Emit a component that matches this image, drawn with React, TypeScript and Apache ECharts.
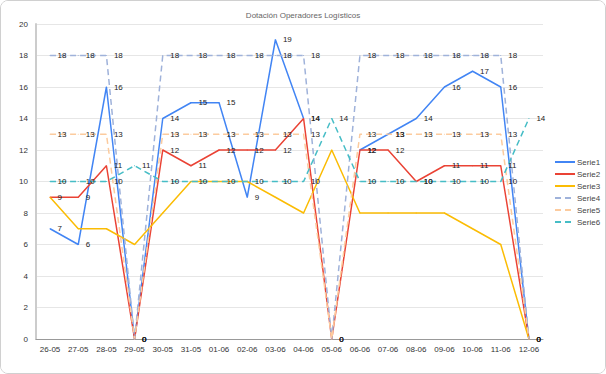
import React, { useEffect, useRef } from "react";
import * as echarts from "echarts";

const categories = ["26-05","27-05","28-05","29-05","30-05","31-05","01-06","02-06","03-06","04-06","05-06","06-06","07-06","08-06","09-06","10-06","11-06","12-06"];
const serie1 = [7, 6, 16, 0, 14, 15, 15, 9, 19, 14, null, 12, 13, 14, 16, 17, 16, 0];
const serie2 = [9, 9, 11, 0, 12, 11, 12, 12, 12, 14, 0, 12, 12, 10, 11, 11, 11, 0];
const serie3 = [9, 7, 7, 6, 8, 10, 10, 10, 9, 8, 12, 8, 8, 8, 8, 7, 6, 0];
const serie4 = [18, 18, 18, 0, 18, 18, 18, 18, 18, 18, 0, 18, 18, 18, 18, 18, 18, 0];
const serie5 = [13, 13, 13, 0, 13, 13, 13, 13, 13, 13, 0, 13, 13, 13, 13, 13, 13, 0];
const serie6 = [10, 10, 10, 11, 10, 10, 10, 10, 10, 10, 14, 10, 10, 10, 10, 10, 10, 14];
const yTicks = [0, 2, 4, 6, 8, 10, 12, 14, 16, 18, 20];

const FONT = "Liberation Sans, Arial, sans-serif";

function mk(name: string, data: (number | null)[], color: string, dashed: boolean, labels: boolean) {
  return {
    name,
    type: "line",
    data,
    symbol: "circle",
    symbolSize: 1,
    showSymbol: true,
    connectNulls: false,
    lineStyle: { color, width: 1.5, type: dashed ? [6, 4] : "solid" },
    itemStyle: { color },
    emphasis: { disabled: true },
    label: {
      show: labels,
      position: "right",
      distance: 7,
      fontSize: 8,
      fontFamily: FONT,
      color: "#222",
    },
    labelLayout: { hideOverlap: false },
  };
}

export default function App() {
  const ref = useRef<HTMLDivElement>(null);
  useEffect(() => {
    if (!ref.current) return;
    const chart = echarts.init(ref.current, undefined, { renderer: "svg" });
    chart.setOption({
      animation: false,
      backgroundColor: "#fff",
      title: {
        text: "Dotación Operadores Logísticos",
        left: "center",
        top: 5,
        textStyle: { fontSize: 8, fontWeight: "normal", color: "#666", fontFamily: FONT },
      },
      legend: {
        orient: "vertical",
        left: 553,
        top: 157,
        padding: 0,
        itemWidth: 20,
        itemHeight: 8,
        itemGap: 4,
        itemStyle: { opacity: 0 },
        textStyle: { fontSize: 8, color: "#444", fontFamily: FONT, padding: [0, 0, 0, -3] },
        data: ["Serie1", "Serie2", "Serie3", "Serie4", "Serie5", "Serie6"],
      },
      grid: { left: 35, right: 62, top: 23, bottom: 34, containLabel: false },
      xAxis: {
        type: "category",
        data: categories,
        boundaryGap: true,
        axisLine: { lineStyle: { color: "#999" } },
        axisTick: { show: false },
        axisLabel: { fontSize: 8, color: "#333", fontFamily: FONT, interval: 0, margin: 6 },
      },
      yAxis: {
        type: "value",
        min: 0,
        max: 20,
        interval: 2,
        axisLine: { show: true, lineStyle: { color: "#ccc", width: 2 } },
        axisTick: { show: false },
        splitLine: { lineStyle: { color: "#e6e6e6" } },
        axisLabel: { fontSize: 8, color: "#333", fontFamily: FONT, margin: 8, formatter: (v: number) => (yTicks.includes(v) ? String(v) : "") },
      },
      series: [
        mk("Serie1", serie1, "#4285F4", false, true),
        mk("Serie2", serie2, "#EA4335", false, true),
        mk("Serie3", serie3, "#FBBC04", false, false),
        mk("Serie4", serie4, "#9FB2DA", true, true),
        mk("Serie5", serie5, "#FCCB9E", true, true),
        mk("Serie6", serie6, "#46BDC6", true, true),
      ],
    });
    return () => chart.dispose();
  }, []);
  return (
    <div
      style={{
        position: "fixed",
        left: 0,
        top: 0,
        width: 606,
        height: 374,
        border: "1px solid #d0d0d0",
        borderRadius: 8,
        boxSizing: "border-box",
        overflow: "hidden",
        background: "#fff",
      }}
    >
      <div ref={ref} style={{ width: 604, height: 372 }} />
    </div>
  );
}
